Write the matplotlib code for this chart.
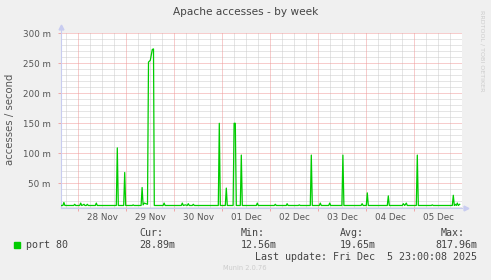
import matplotlib
matplotlib.use("Agg")
import matplotlib.pyplot as plt

# hours relative to 28 Nov 00:00, values in milli-accesses/second
hours = [
    -8.6, -7.7, -7.2, -6.7, -3.0, -2.3, -1.8, -1.3, 0.7, 1.2, 1.7, 2.4, 2.85, 3.3, 4.0, 4.5, 5.0, 8.5, 9.0, 9.5,
    19.0, 19.5, 20.0, 22.7, 23.2, 23.7, 27.0, 27.4, 27.9, 31.4, 31.9, 32.4, 33.0, 34.6, 35.1, 36.0, 37.0, 37.6, 38.0, 39.0,
    42.4, 42.9, 43.4, 51.5, 52.0, 52.5, 53.5, 54.5, 55.0, 55.5, 57.0, 57.5, 58.0,
    70.0, 70.5, 71.0, 73.5, 74.0, 74.5, 77.4, 77.9, 78.5, 79.0, 81.0, 81.5, 82.0,
    89.0, 89.5, 90.0, 98.0, 98.5, 99.0, 104.0, 104.4, 104.9, 110.0, 110.5, 111.0,
    116.0, 116.5, 117.0, 120.5, 121.0, 121.5, 125.2, 125.7, 126.2, 131.8, 132.3, 132.8,
    141.4, 141.9, 142.4, 144.0, 144.5, 145.0, 154.5, 155.0, 155.5, 162.0, 162.5, 163.2, 164.0, 164.5,
    169.0, 169.5, 170.0, 176.5, 177.0, 177.5, 187.0, 187.5, 188.0, 188.5, 189.0, 189.5, 190.0, 190.7,
]
values = [
    13, 13, 18, 13, 13, 13, 15, 13, 13, 17, 13, 14, 15, 13, 13, 15, 13, 13, 17, 13,
    13, 109, 13, 13, 68, 13, 13, 14, 13, 13, 43, 14, 17, 15, 252, 255, 273, 274, 13, 13,
    13, 17, 13, 13, 17, 13, 14, 13, 16, 13, 13, 15, 13,
    13, 150, 13, 13, 42, 13, 13, 150, 150, 13, 13, 97, 13,
    13, 17, 13, 13, 15, 13, 13, 16, 13, 13, 14, 13,
    13, 97, 13, 13, 17, 13, 13, 17, 13, 13, 97, 13,
    13, 16, 13, 13, 34, 13, 13, 29, 13, 13, 16, 13, 17, 13,
    13, 97, 13, 13, 14, 13, 13, 30, 13, 15, 13, 17, 13, 15,
]

day_labels = ["28 Nov", "29 Nov", "30 Nov", "01 Dec", "02 Dec", "03 Dec", "04 Dec", "05 Dec"]
y_ticks = [50, 100, 150, 200, 250, 300]
y_labels = ["50 m", "100 m", "150 m", "200 m", "250 m", "300 m"]

W, H = 491, 280
fig = plt.figure(figsize=(W / 100, H / 100), dpi=100, facecolor="#f0f0f0")
x0, x1, y0, y1 = 61, 462.3, 33.3, 208.3
ax = fig.add_axes([x0 / W, 1 - y1 / H, (x1 - x0) / W, (y1 - y0) / H])
ax.set_facecolor("white")
ax.set_xlim(-8.65, 192)
ax.set_ylim(8.3, 300)

dot = (0, (1, 1))
for v in range(10, 300, 10):
    if v % 50:
        ax.axhline(v, color="#cdcdcd", lw=0.72, ls=dot, zorder=0)
for v in y_ticks:
    ax.axhline(v, color="#f09a9a", lw=0.72, ls=dot, zorder=1)
for h in range(-6, 192, 6):
    if h % 24:
        ax.axvline(h, color="#cdcdcd", lw=0.72, ls=dot, zorder=0)
for h in range(0, 192, 24):
    ax.axvline(h, color="#f09a9a", lw=0.72, ls=dot, zorder=1)

ax.plot(hours, values, color="#00cc00", lw=0.9, zorder=3)

for s in ("top", "right"):
    ax.spines[s].set_visible(False)
for s in ("left", "bottom"):
    ax.spines[s].set_color("#c8ccf0")
    ax.spines[s].set_linewidth(0.8)

ax.set_yticks(y_ticks)
ax.set_yticklabels(y_labels)
ax.set_xticks([12 + 24 * i for i in range(len(day_labels))])
ax.set_xticklabels(day_labels)
ax.set_xticks(range(0, 192, 24), minor=True)
ax.tick_params(axis="x", which="major", length=0, pad=3.5, labelsize=6.3, labelcolor="#555555")
ax.tick_params(axis="x", which="minor", length=2, color="#f09a9a", width=0.6)
ax.tick_params(axis="y", which="major", length=2, color="#f09a9a", width=0.6,
               pad=5.5, labelsize=6.3, labelcolor="#555555")

# axis arrows
ax.plot([0], [1.035], marker="^", ms=3.5, color="#c8ccf0", transform=ax.transAxes, clip_on=False)
ax.plot([1.008], [0], marker=">", ms=3.5, color="#c8ccf0", transform=ax.transAxes, clip_on=False)
ax.plot([0, 0], [1, 1.03], color="#c8ccf0", lw=0.8, transform=ax.transAxes, clip_on=False)

def ftext(x, y, s, **kw):
    fig.text(x / W, 1 - y / H, s, **kw)

ftext(245.5, 11.7, "Apache accesses - by week", ha="center", va="center", fontsize=7.6, color="#444444")
ftext(10.5, 119, "accesses / second", ha="center", va="center", rotation=90, fontsize=7.3, color="#555555")
ftext(482, 10, "RRDTOOL / TOBI OETIKER", ha="center", va="top", rotation=270, fontsize=4.6, color="#cccccc")

mono = dict(family="DejaVu Sans Mono", fontsize=7.2, color="#444444", va="center")
fig.patches.append(plt.Rectangle((14 / W, 1 - 247.5 / H), 6 / W, 5.5 / H,
                                 transform=fig.transFigure, color="#00cc00"))
ftext(26.5, 244.7, "port 80", **mono)
ftext(139.3, 232.7, "Cur:", **mono)
ftext(139.3, 244.7, "28.89m", **mono)
ftext(240.5, 232.7, "Min:", **mono)
ftext(240.5, 244.7, "12.56m", **mono)
ftext(340, 232.7, "Avg:", **mono)
ftext(340, 244.7, "19.65m", **mono)
ftext(441, 232.7, "Max:", **mono)
ftext(435, 244.7, "817.96m", **mono)
ftext(476.7, 256.7, "Last update: Fri Dec  5 23:00:08 2025", ha="right", **mono)
ftext(245, 267.7, "Munin 2.0.76", ha="center", va="center", fontsize=4.8, color="#cccccc")

fig.savefig("out.png", dpi=100, facecolor=fig.get_facecolor())
